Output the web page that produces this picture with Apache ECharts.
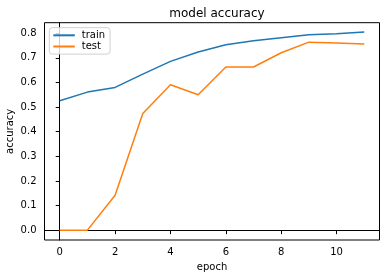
<!DOCTYPE html>
<html><head><meta charset="utf-8">
<script src="https://cdn.jsdelivr.net/npm/echarts@6/dist/echarts.min.js"></script>
<style>html,body{margin:0;padding:0;background:#fff}#c{width:389px;height:278px}</style>
</head><body><div id="c"></div>
<script>
const epochs = [0,1,2,3,4,5,6,7,8,9,10,11];
const train = [0.526,0.561,0.580,0.634,0.686,0.724,0.753,0.770,0.782,0.794,0.798,0.805];
const test = [0.0,0.0,0.142,0.474,0.591,0.550,0.663,0.663,0.721,0.764,0.761,0.756];
const xTicks = [0,2,4,6,8,10];
const yTicks = [0.0,0.1,0.2,0.3,0.4,0.5,0.6,0.7,0.8];
const font = 'DejaVu Sans';
const chart = echarts.init(document.getElementById('c'));
chart.setOption({
  animation:false,
  title:{text:'model accuracy',left:212,textAlign:'center',top:3,textStyle:{fontFamily:font,fontSize:12,fontWeight:'normal',color:'#000'}},
  grid:{left:44.5,right:9.5,top:22.7,bottom:38,show:true,borderColor:'#000',borderWidth:1,containLabel:false,outerBoundsMode:'none'},
  legend:{left:49.3,top:27.7,orient:'vertical',itemWidth:21.5,itemHeight:14,itemGap:0,padding:[2,5,2,3],
    backgroundColor:'rgba(255,255,255,0.8)',borderColor:'#d0d0d0',borderWidth:1,borderRadius:3,
    itemStyle:{opacity:0},
    textStyle:{fontFamily:font,fontSize:10,color:'#000',padding:[0,0,0,2]}},
  xAxis:{type:'value',min:-0.55,max:11.55,name:'epoch',nameLocation:'middle',nameGap:22,nameMoveOverlap:false,
    nameTextStyle:{fontFamily:font,fontSize:10,color:'#000'},
    axisLine:{show:true,lineStyle:{color:'#000'}},splitLine:{show:false},
    axisTick:{show:true,length:4,customValues:xTicks,lineStyle:{color:'#000'}},
    axisLabel:{customValues:xTicks,fontFamily:font,fontSize:10,color:'#000',margin:7}},
  yAxis:{type:'value',min:-0.04,max:0.843,name:'accuracy',nameLocation:'middle',nameGap:29,nameMoveOverlap:false,
    nameTextStyle:{fontFamily:font,fontSize:10,color:'#000'},
    axisLine:{show:true,lineStyle:{color:'#000'}},splitLine:{show:false},
    axisTick:{show:true,length:4,customValues:yTicks,lineStyle:{color:'#000'}},
    axisLabel:{customValues:yTicks,fontFamily:font,fontSize:10,color:'#000',margin:8,formatter:v=>v.toFixed(1)}},
  series:[
    {name:'train',type:'line',symbol:'none',data:epochs.map((e,i)=>[e,train[i]]),lineStyle:{color:'#1f77b4',width:1.5},itemStyle:{color:'#1f77b4'}},
    {name:'test',type:'line',symbol:'none',data:epochs.map((e,i)=>[e,test[i]]),lineStyle:{color:'#ff7f0e',width:1.5},itemStyle:{color:'#ff7f0e'}}
  ]
});
</script></body></html>
